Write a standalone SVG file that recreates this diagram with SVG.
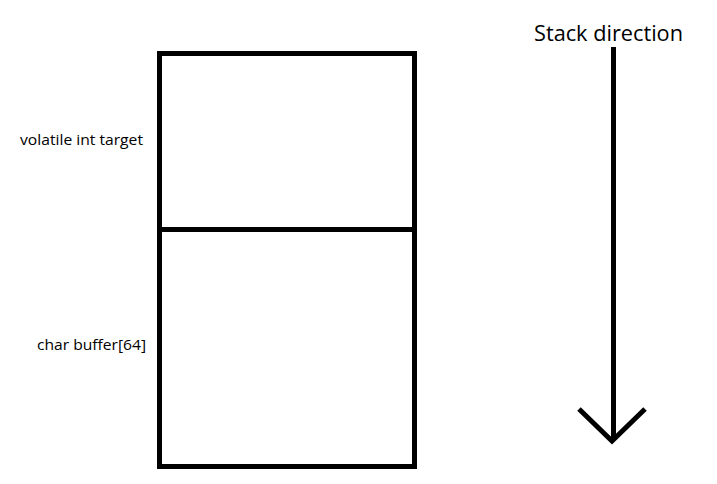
<svg xmlns="http://www.w3.org/2000/svg" width="717" height="484" viewBox="0 0 717 484">
<style>
.ln{stroke:#000;stroke-width:5;fill:none}
.t{font-family:"Open Sans","Noto Sans","Liberation Sans",sans-serif;fill:#000}
</style>
<rect width="717" height="484" fill="#fff"/>
<g id="stack">
<rect class="ln" x="159.5" y="53.5" width="255" height="413"/>
</g>
<g id="target">
<text class="t" x="20" y="145" font-size="15" textLength="123" lengthAdjust="spacingAndGlyphs">volatile int target</text>
</g>
<g id="buffer">
<text class="t" x="37" y="350" font-size="15" textLength="109" lengthAdjust="spacingAndGlyphs">char buffer[64]</text>
</g>
<g id="direction">
<text class="t" x="534" y="41" font-size="22" textLength="149" lengthAdjust="spacingAndGlyphs">Stack direction</text>
</g>
<g id="connectors">
<line class="ln" x1="159.5" y1="229.5" x2="414.5" y2="229.5"/>
<line class="ln" x1="613.5" y1="47" x2="613.5" y2="440"/>
<polyline class="ln" stroke-width="4.5" points="579,409 612,441 645,409"/>
</g>
</svg>
